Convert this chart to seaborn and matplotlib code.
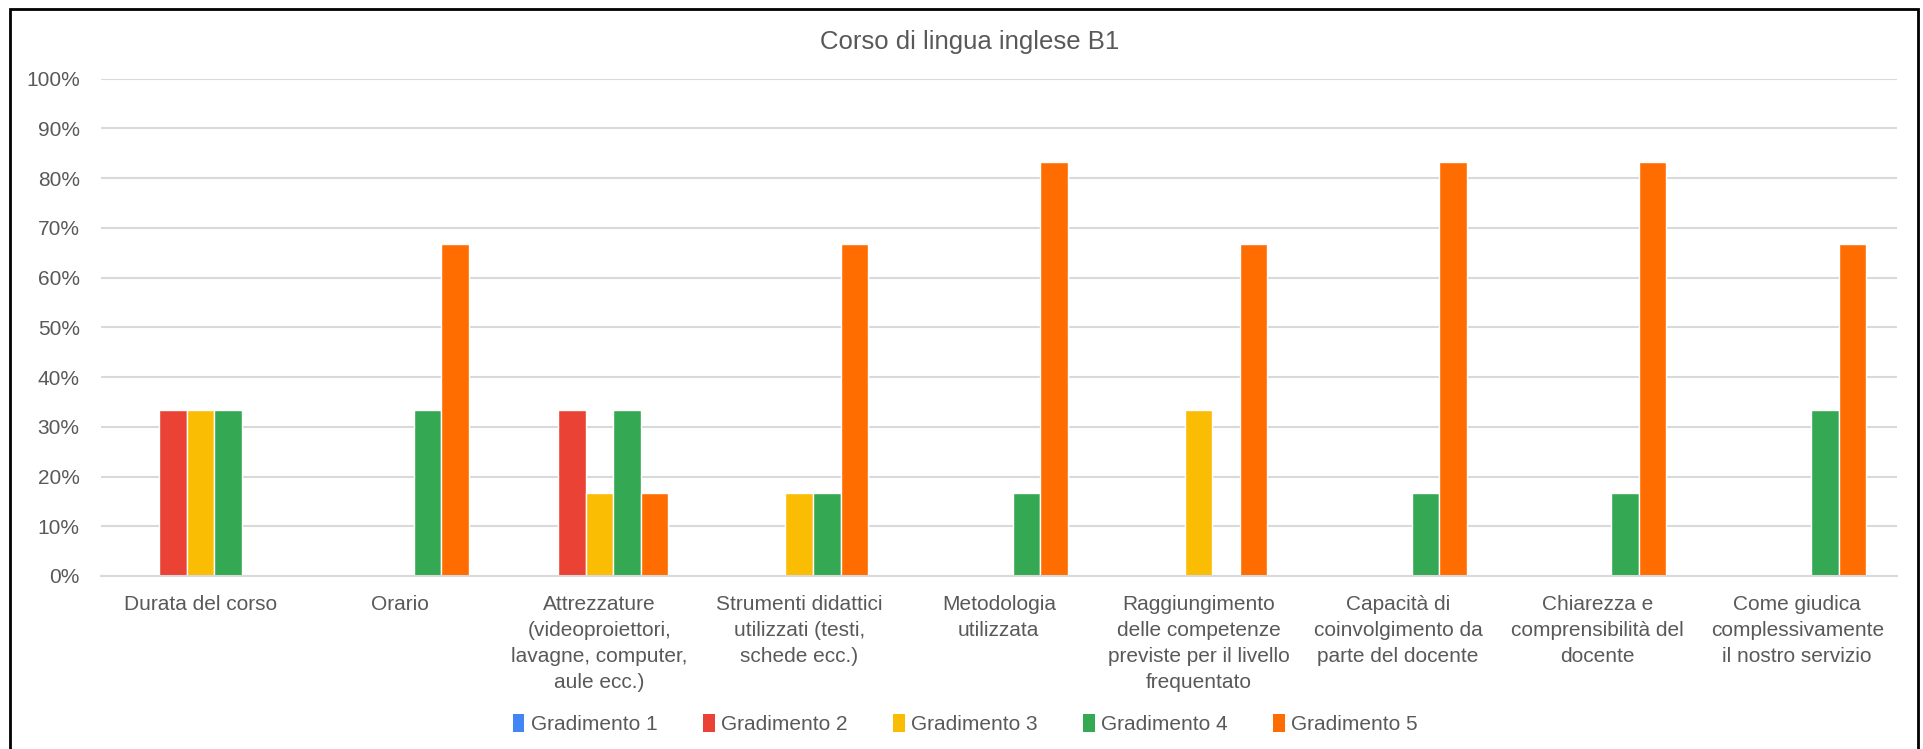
import numpy as np
import pandas as pd
import seaborn as sb
import matplotlib.pyplot as plt
from matplotlib.patches import Rectangle, Patch
from matplotlib.ticker import PercentFormatter

# categorie (etichette già spezzate come nel grafico originale)
categorie = [
    "Durata del corso",
    "Orario",
    "Attrezzature\n(videoproiettori,\nlavagne, computer,\naule ecc.)",
    "Strumenti didattici\nutilizzati (testi,\nschede ecc.)",
    "Metodologia\nutilizzata",
    "Raggiungimento\ndelle competenze\npreviste per il livello\nfrequentato",
    "Capacità di\ncoinvolgimento da\nparte del docente",
    "Chiarezza e\ncomprensibilità del\ndocente",
    "Come giudica\ncomplessivamente\nil nostro servizio",
]
serie = ["Gradimento 1", "Gradimento 2", "Gradimento 3", "Gradimento 4", "Gradimento 5"]

# percentuali
gradimento_1 = [0, 0, 0, 0, 0, 0, 0, 0, 0]
gradimento_2 = [33.33, 0, 33.33, 0, 0, 0, 0, 0, 0]
gradimento_3 = [33.33, 0, 16.67, 16.67, 0, 33.33, 0, 0, 0]
gradimento_4 = [33.33, 33.33, 33.33, 16.67, 16.67, 0, 16.67, 16.67, 33.33]
gradimento_5 = [0, 66.67, 16.67, 66.67, 83.33, 66.67, 83.33, 83.33, 66.67]

colori = ["#4285F4", "#EA4335", "#FBBC04", "#34A853", "#FF6D01"]

valori = [gradimento_1, gradimento_2, gradimento_3, gradimento_4, gradimento_5]
righe = []
for s, v in zip(serie, valori):
    for c, x in zip(categorie, v):
        righe.append({"categoria": c, "gradimento": s, "valore": x})
dados = pd.DataFrame(righe)

sb.set_style("white")
plt.rcParams["font.family"] = ["Liberation Sans", "DejaVu Sans"]
grigio = "#595959"

fig = plt.figure(figsize=(19.23, 7.49), dpi=100)
ax = fig.add_axes([0.0523, 0.231, 0.9342, 0.664])

sb.barplot(data=dados, x="categoria", y="valore", hue="gradimento",
           palette=colori, saturation=1, width=0.69, ax=ax, legend=False)

ax.set_xlim(-0.5, 8.5)
ax.set_ylim(0, 100)
ax.set_yticks(np.arange(0, 101, 10))
ax.yaxis.set_major_formatter(PercentFormatter(decimals=0))
ax.grid(axis="y", color="#d9d9d9", linewidth=1.5)
ax.set_axisbelow(True)
for lato in ["top", "right", "left"]:
    ax.spines[lato].set_visible(False)
ax.spines["bottom"].set_color("#d9d9d9")
ax.spines["bottom"].set_linewidth(1.5)
ax.set_xlabel("")
ax.set_ylabel("")
ax.tick_params(axis="both", length=0, labelsize=15, colors=grigio)
ax.tick_params(axis="y", pad=15)
ax.tick_params(axis="x", pad=14)
for t in ax.get_xticklabels():
    t.set_linespacing(1.45)

fig.text(0.504, 0.944, "Corso di lingua inglese B1", ha="center", va="center",
         fontsize=18.5, color=grigio)

maniglie = [Patch(facecolor=c, edgecolor="none") for c in colori]
fig.legend(maniglie, serie, loc="center", bbox_to_anchor=(0.502, 0.033), ncol=5,
           frameon=False, fontsize=15, labelcolor=grigio, handlelength=0.55,
           handleheight=0.9, handletextpad=0.3, columnspacing=2.2)

# cornice nera attorno al grafico
fig.patches.append(Rectangle((10 / 1923, -0.05), 1908 / 1923, 0.05 + 1 - 9 / 749,
                             transform=fig.transFigure, fill=False,
                             edgecolor="black", linewidth=2))

fig.savefig("out.png", dpi=100)
plt.close()
